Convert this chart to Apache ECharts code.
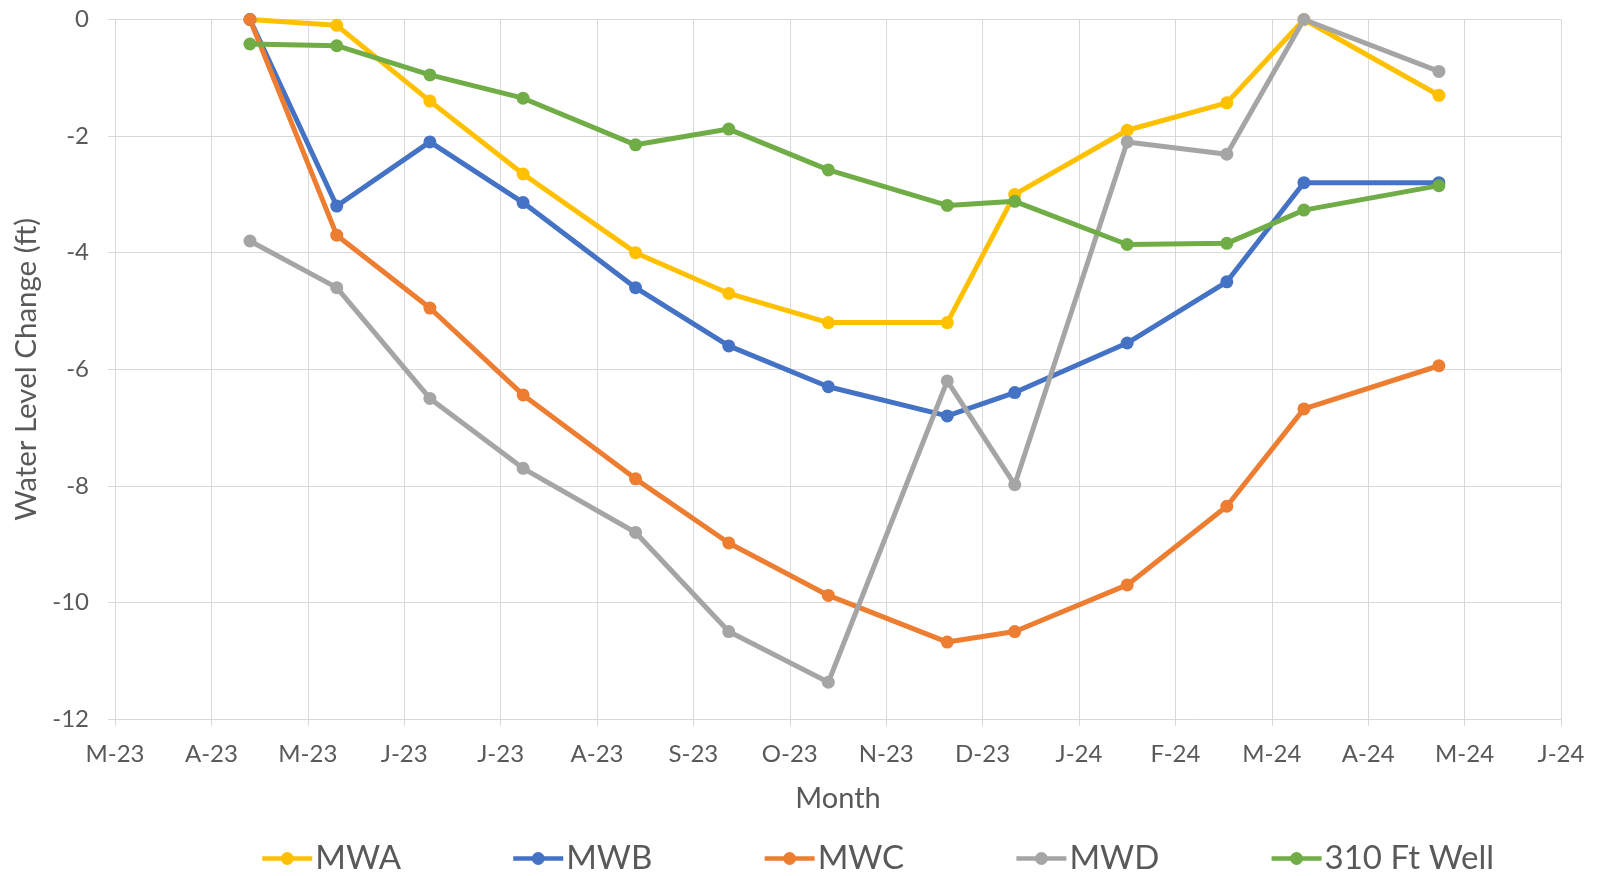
<!DOCTYPE html>
<html>
<head>
<meta charset="utf-8">
<script src="https://cdn.jsdelivr.net/npm/echarts@6/dist/echarts.min.js"></script>
<style>
  html, body { margin: 0; padding: 0; background: #ffffff; }
  #chart { width: 1598px; height: 876px; }
</style>
</head>
<body>
<div id="chart"></div>
<script>
// Origin of the month axis; ticks sit every 30 days from here.
const axisStart = '2023-03-15';
const tickLabels = ['M-23', 'A-23', 'M-23', 'J-23', 'J-23', 'A-23', 'S-23', 'O-23',
                    'N-23', 'D-23', 'J-24', 'F-24', 'M-24', 'A-24', 'M-24', 'J-24'];

// Measurement dates
const sampleDates = ['2023-04-26', '2023-05-23', '2023-06-21', '2023-07-20', '2023-08-24',
                     '2023-09-22', '2023-10-23', '2023-11-29', '2023-12-20', '2024-01-24',
                     '2024-02-24', '2024-03-19', '2024-04-30'];

// Water level change (ft) per well
const mwa     = [0, -0.1, -1.4, -2.65, -4.0, -4.7, -5.2, -5.2, -3.0, -1.9, -1.43, 0, -1.3];
const mwb     = [0, -3.2, -2.1, -3.14, -4.6, -5.6, -6.3, -6.8, -6.4, -5.55, -4.5, -2.8, -2.8];
const mwc     = [0, -3.7, -4.95, -6.44, -7.88, -8.98, -9.88, -10.68, -10.5, -9.7, -8.35, -6.68, -5.94];
const mwd     = [-3.8, -4.6, -6.5, -7.7, -8.8, -10.5, -11.37, -6.2, -7.98, -2.1, -2.31, 0, -0.89];
const well310 = [-0.42, -0.45, -0.95, -1.35, -2.15, -1.88, -2.58, -3.19, -3.12, -3.86, -3.84, -3.27, -2.85];

const seriesNames  = ['MWA', 'MWB', 'MWC', 'MWD', '310 Ft Well'];
const seriesValues = [mwa, mwb, mwc, mwd, well310];
const seriesColors = ['#FFC000', '#4472C4', '#ED7D31', '#A5A5A5', '#70AD47'];

const DAY = 86400000;
const dayOf = s => Math.round((Date.parse(s) - Date.parse(axisStart)) / DAY);
const xDays = sampleDates.map(dayOf);

const FONT = 'Lato';
const TEXT = '#595959';
const GRID = '#d9d9d9';

const chart = echarts.init(document.getElementById('chart'), null, { renderer: 'canvas' });

chart.setOption({
  animation: false,
  backgroundColor: '#ffffff',
  textStyle: { fontFamily: FONT },
  grid: { left: 115, right: 37, top: 19.5, bottom: 157, containLabel: false },
  legend: {
    data: seriesNames,
    left: 255,
    top: 837,
    itemGap: 110,
    itemWidth: 50,
    itemHeight: 16,
    lineStyle: { width: 4.5 },
    textStyle: { fontFamily: FONT, fontSize: 33, color: TEXT, padding: [0, 0, 0, -2] }
  },
  xAxis: {
    type: 'value',
    min: 0,
    max: 450,
    interval: 30,
    name: 'Month',
    nameLocation: 'middle',
    nameGap: 65,
    nameTextStyle: { fontFamily: FONT, fontSize: 29, color: TEXT },
    axisLine: { show: true, onZero: false, lineStyle: { color: GRID, width: 1 } },
    axisTick: { show: true, inside: false, length: 7, lineStyle: { color: GRID } },
    splitLine: { show: true, lineStyle: { color: GRID, width: 1 } },
    axisLabel: {
      margin: 23,
      fontFamily: FONT,
      fontSize: 24,
      color: TEXT,
      showMinLabel: true,
      showMaxLabel: true,
      formatter: v => tickLabels[Math.round(v / 30)] || ''
    }
  },
  yAxis: {
    type: 'value',
    min: -12,
    max: 0,
    interval: 2,
    name: 'Water Level Change (ft)',
    nameLocation: 'middle',
    nameGap: 74,
    nameTextStyle: { fontFamily: FONT, fontSize: 29.5, color: TEXT },
    axisLine: { show: true, lineStyle: { color: GRID, width: 1 } },
    axisTick: { show: true, inside: false, length: 7, lineStyle: { color: GRID } },
    splitLine: { show: true, lineStyle: { color: GRID, width: 1 } },
    axisLabel: { margin: 26, fontFamily: FONT, fontSize: 24, color: TEXT }
  },
  series: seriesNames.map((name, i) => ({
    name,
    type: 'line',
    data: xDays.map((d, k) => [d, seriesValues[i][k]]),
    symbol: 'circle',
    symbolSize: 13,
    clip: false,
    color: seriesColors[i],
    lineStyle: { width: 5, color: seriesColors[i] },
    itemStyle: { color: seriesColors[i] },
    emphasis: { disabled: true }
  }))
});
</script>
</body>
</html>
